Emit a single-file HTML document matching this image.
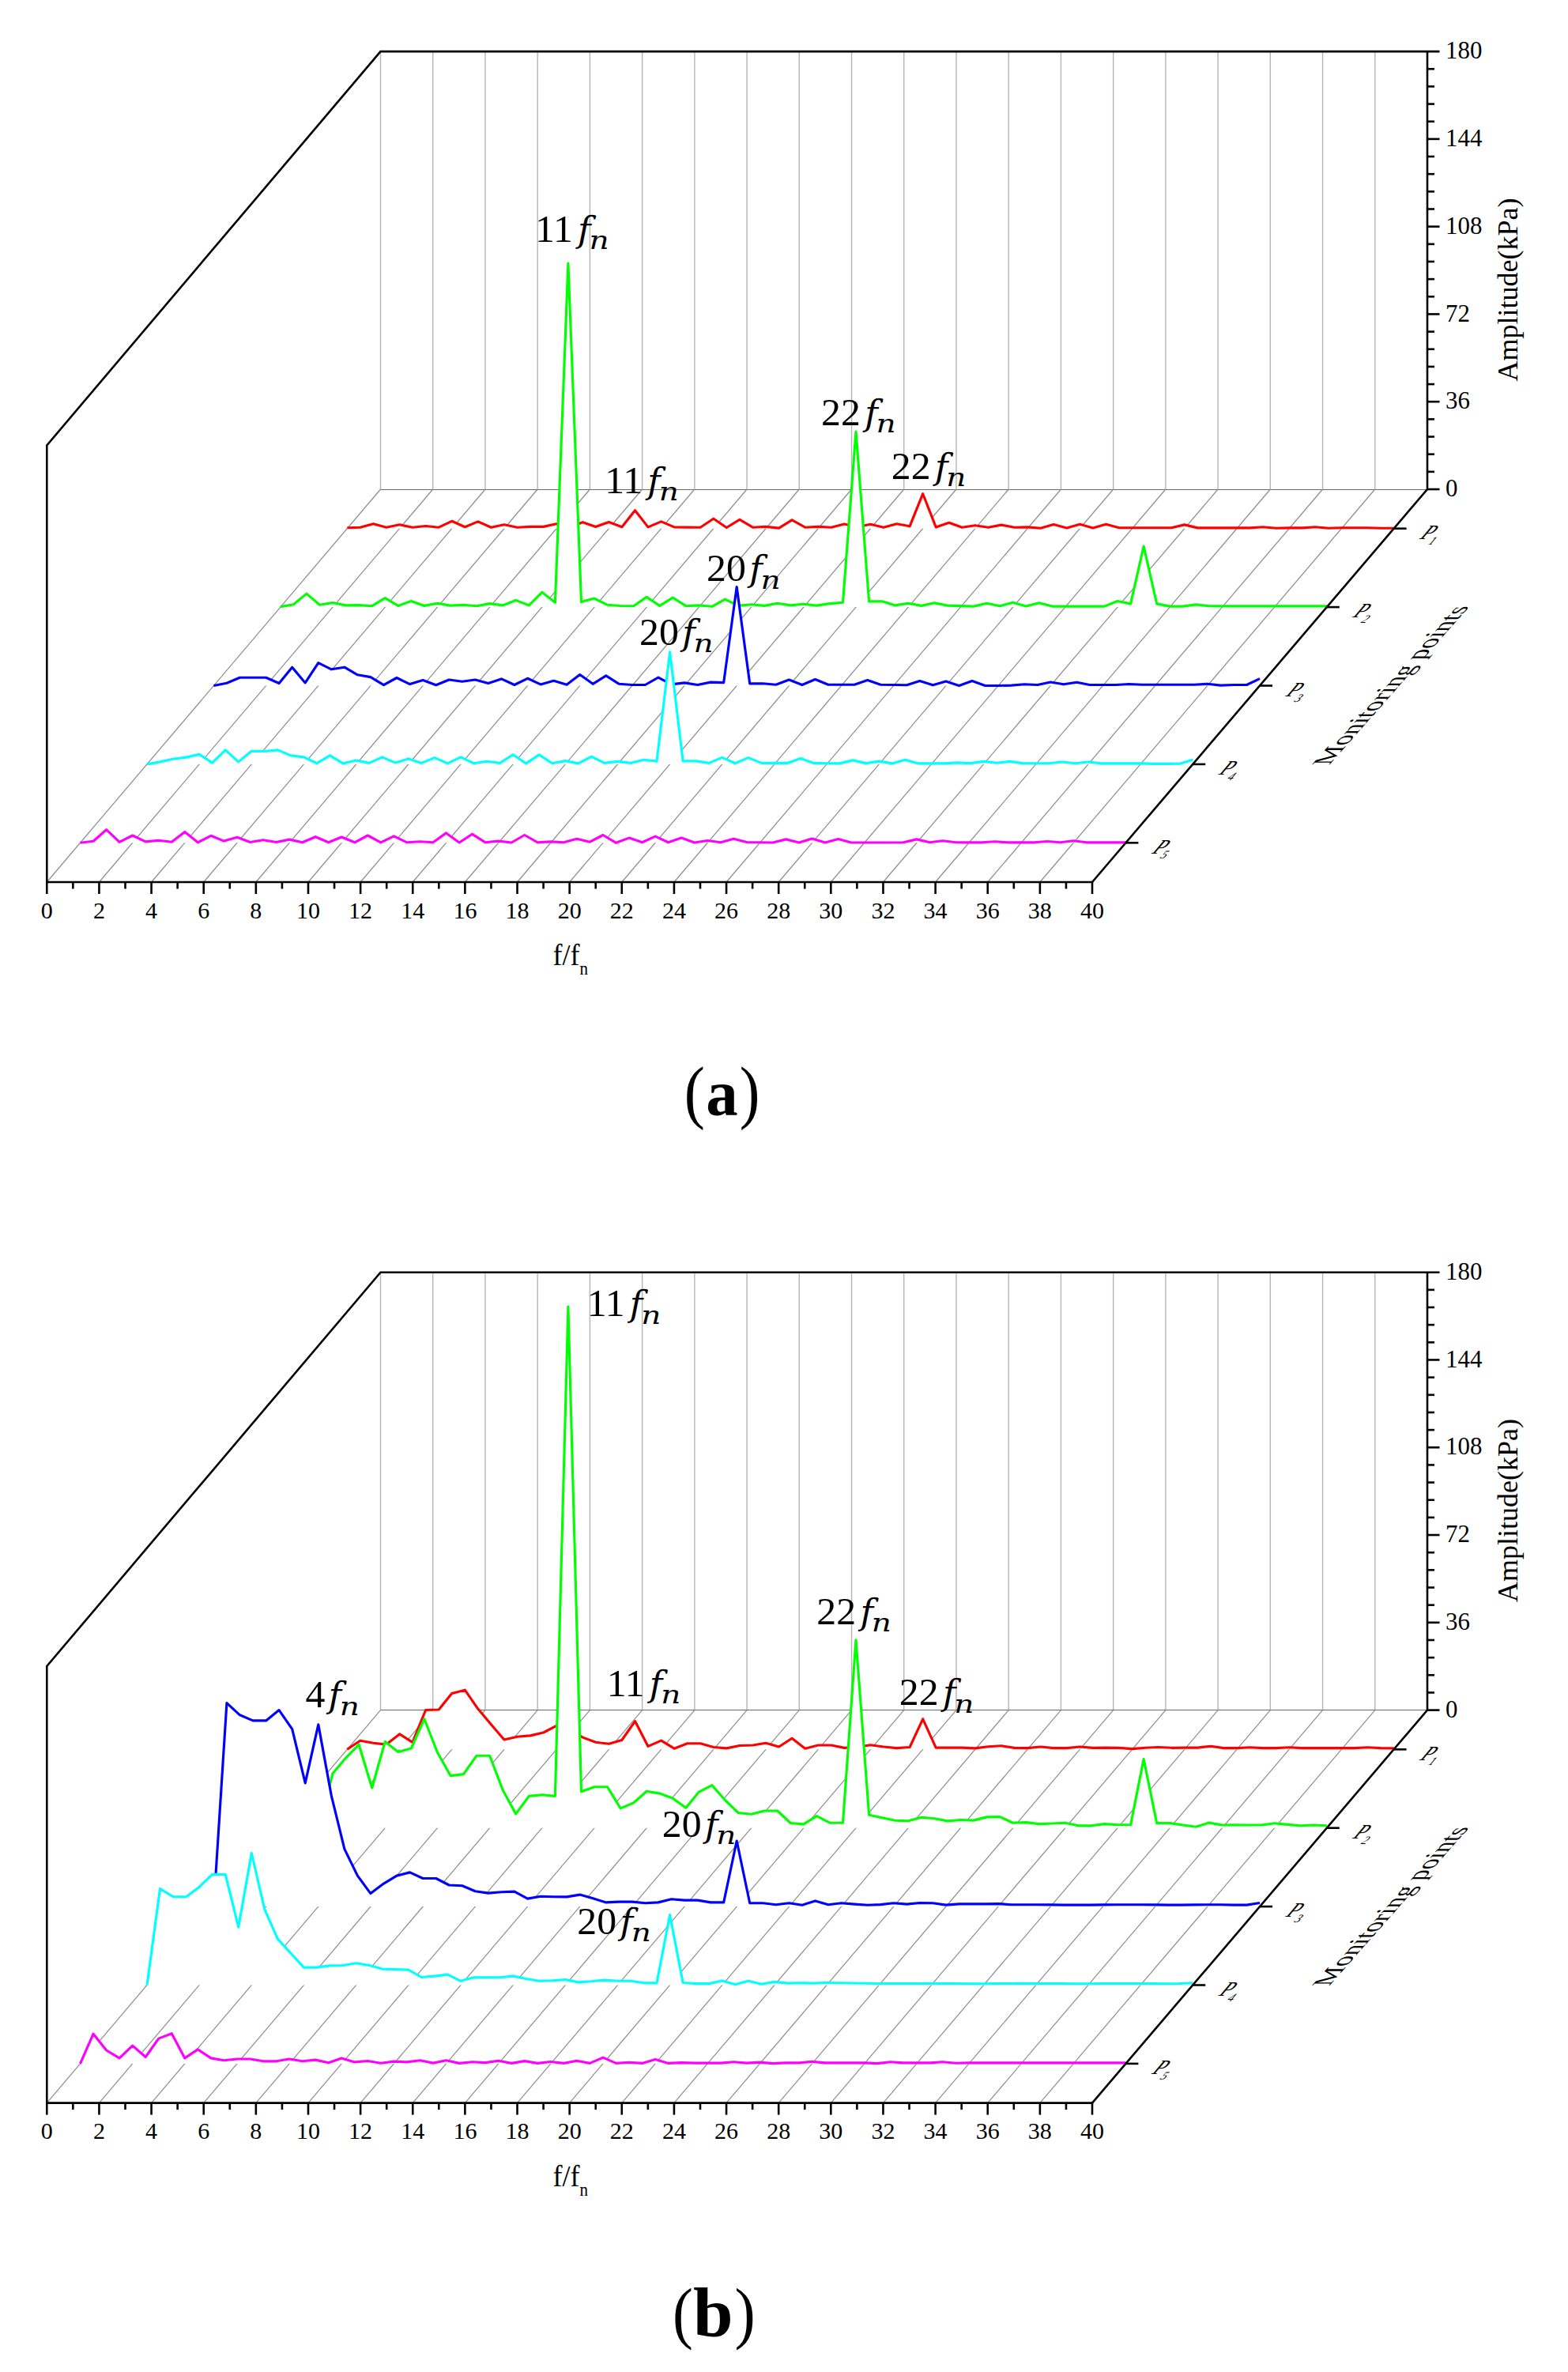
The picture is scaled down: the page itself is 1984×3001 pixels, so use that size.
<!DOCTYPE html>
<html><head><meta charset="utf-8"><title>Figure</title>
<style>
html,body{margin:0;padding:0;background:#fff;}
svg{display:block}
text{font-family:"Liberation Serif",serif;fill:#000}
.tk{font-size:30px}
.ti{font-size:36px}
.ti2{font-size:33px}
.pl{font-size:34px}
.an{font-size:47px}
.ai{font-family:"DejaVu Serif","Liberation Serif",serif;font-style:italic;font-size:44.7px}
.as{font-family:"DejaVu Serif","Liberation Serif",serif;font-style:italic;font-size:32px}
.cap{font-size:100px}
.capb{font-weight:bold}
</style></head><body>
<svg width="1984" height="3001" viewBox="0 0 1984 3001">
<rect width="1984" height="3001" fill="#fff"/>
<line x1="481.50" y1="65.10" x2="481.50" y2="619.00" stroke="#b4b4b4" stroke-width="1.4"/>
<line x1="547.73" y1="65.10" x2="547.73" y2="619.00" stroke="#b4b4b4" stroke-width="1.4"/>
<line x1="613.95" y1="65.10" x2="613.95" y2="619.00" stroke="#b4b4b4" stroke-width="1.4"/>
<line x1="680.17" y1="65.10" x2="680.17" y2="619.00" stroke="#b4b4b4" stroke-width="1.4"/>
<line x1="746.40" y1="65.10" x2="746.40" y2="619.00" stroke="#b4b4b4" stroke-width="1.4"/>
<line x1="812.62" y1="65.10" x2="812.62" y2="619.00" stroke="#b4b4b4" stroke-width="1.4"/>
<line x1="878.85" y1="65.10" x2="878.85" y2="619.00" stroke="#b4b4b4" stroke-width="1.4"/>
<line x1="945.08" y1="65.10" x2="945.08" y2="619.00" stroke="#b4b4b4" stroke-width="1.4"/>
<line x1="1011.30" y1="65.10" x2="1011.30" y2="619.00" stroke="#b4b4b4" stroke-width="1.4"/>
<line x1="1077.53" y1="65.10" x2="1077.53" y2="619.00" stroke="#b4b4b4" stroke-width="1.4"/>
<line x1="1143.75" y1="65.10" x2="1143.75" y2="619.00" stroke="#b4b4b4" stroke-width="1.4"/>
<line x1="1209.97" y1="65.10" x2="1209.97" y2="619.00" stroke="#b4b4b4" stroke-width="1.4"/>
<line x1="1276.20" y1="65.10" x2="1276.20" y2="619.00" stroke="#b4b4b4" stroke-width="1.4"/>
<line x1="1342.42" y1="65.10" x2="1342.42" y2="619.00" stroke="#b4b4b4" stroke-width="1.4"/>
<line x1="1408.65" y1="65.10" x2="1408.65" y2="619.00" stroke="#b4b4b4" stroke-width="1.4"/>
<line x1="1474.88" y1="65.10" x2="1474.88" y2="619.00" stroke="#b4b4b4" stroke-width="1.4"/>
<line x1="1541.10" y1="65.10" x2="1541.10" y2="619.00" stroke="#b4b4b4" stroke-width="1.4"/>
<line x1="1607.33" y1="65.10" x2="1607.33" y2="619.00" stroke="#b4b4b4" stroke-width="1.4"/>
<line x1="1673.55" y1="65.10" x2="1673.55" y2="619.00" stroke="#b4b4b4" stroke-width="1.4"/>
<line x1="1739.78" y1="65.10" x2="1739.78" y2="619.00" stroke="#b4b4b4" stroke-width="1.4"/>
<line x1="481.50" y1="619.50" x2="1806.00" y2="619.50" stroke="#6a6a6a" stroke-width="1"/>
<line x1="59.30" y1="1116.00" x2="481.50" y2="619.00" stroke="#8c8c8c" stroke-width="1.2"/>
<line x1="125.44" y1="1116.00" x2="547.73" y2="619.00" stroke="#8c8c8c" stroke-width="1.2"/>
<line x1="191.57" y1="1116.00" x2="613.95" y2="619.00" stroke="#8c8c8c" stroke-width="1.2"/>
<line x1="257.71" y1="1116.00" x2="680.17" y2="619.00" stroke="#8c8c8c" stroke-width="1.2"/>
<line x1="323.84" y1="1116.00" x2="746.40" y2="619.00" stroke="#8c8c8c" stroke-width="1.2"/>
<line x1="389.98" y1="1116.00" x2="812.62" y2="619.00" stroke="#8c8c8c" stroke-width="1.2"/>
<line x1="456.11" y1="1116.00" x2="878.85" y2="619.00" stroke="#8c8c8c" stroke-width="1.2"/>
<line x1="522.25" y1="1116.00" x2="945.08" y2="619.00" stroke="#8c8c8c" stroke-width="1.2"/>
<line x1="588.38" y1="1116.00" x2="1011.30" y2="619.00" stroke="#8c8c8c" stroke-width="1.2"/>
<line x1="654.51" y1="1116.00" x2="1077.53" y2="619.00" stroke="#8c8c8c" stroke-width="1.2"/>
<line x1="720.65" y1="1116.00" x2="1143.75" y2="619.00" stroke="#8c8c8c" stroke-width="1.2"/>
<line x1="786.78" y1="1116.00" x2="1209.97" y2="619.00" stroke="#8c8c8c" stroke-width="1.2"/>
<line x1="852.92" y1="1116.00" x2="1276.20" y2="619.00" stroke="#8c8c8c" stroke-width="1.2"/>
<line x1="919.06" y1="1116.00" x2="1342.42" y2="619.00" stroke="#8c8c8c" stroke-width="1.2"/>
<line x1="985.19" y1="1116.00" x2="1408.65" y2="619.00" stroke="#8c8c8c" stroke-width="1.2"/>
<line x1="1051.33" y1="1116.00" x2="1474.88" y2="619.00" stroke="#8c8c8c" stroke-width="1.2"/>
<line x1="1117.46" y1="1116.00" x2="1541.10" y2="619.00" stroke="#8c8c8c" stroke-width="1.2"/>
<line x1="1183.60" y1="1116.00" x2="1607.33" y2="619.00" stroke="#8c8c8c" stroke-width="1.2"/>
<line x1="1249.73" y1="1116.00" x2="1673.55" y2="619.00" stroke="#8c8c8c" stroke-width="1.2"/>
<line x1="1315.87" y1="1116.00" x2="1739.78" y2="619.00" stroke="#8c8c8c" stroke-width="1.2"/>
<polygon fill="#fff" stroke="none" points="439.3,667.7 455.8,667.2 472.4,662.7 488.9,667.2 505.5,663.8 522.0,667.2 538.6,665.5 555.2,667.2 571.7,659.3 588.3,666.7 604.8,659.9 621.4,667.2 637.9,663.8 654.5,667.2 671.0,666.4 687.6,666.4 704.1,662.7 720.7,666.7 737.3,660.7 753.8,666.4 770.4,660.5 786.9,666.7 803.5,645.7 820.0,666.9 836.6,659.9 853.1,666.9 869.7,667.1 886.2,667.2 902.8,656.2 919.3,667.5 935.9,657.4 952.5,667.2 969.0,666.4 985.6,668.1 1002.1,657.9 1018.7,667.2 1035.2,666.4 1051.8,667.2 1068.3,663.0 1084.9,666.7 1101.4,663.3 1118.0,667.2 1134.5,662.7 1151.1,665.8 1167.7,624.7 1184.2,666.9 1200.8,661.3 1217.3,667.2 1233.9,664.7 1250.4,667.2 1267.0,664.1 1283.5,667.2 1300.1,666.9 1316.6,668.2 1333.2,663.5 1349.8,667.9 1366.3,663.2 1382.9,667.9 1399.4,663.2 1416.0,667.7 1432.5,667.7 1449.1,667.7 1465.6,667.7 1482.2,667.7 1498.7,663.9 1515.3,667.9 1531.8,667.9 1548.4,667.9 1565.0,667.9 1581.5,667.9 1598.1,666.7 1614.6,668.2 1631.2,667.9 1647.7,667.9 1664.3,666.7 1680.8,668.2 1697.4,667.7 1713.9,667.7 1730.5,667.7 1747.0,668.2 1763.6,668.2 1763.6,668.7 439.3,668.7"/>
<polyline fill="none" stroke="#ff0000" stroke-width="3.15" stroke-linejoin="round" stroke-linecap="butt" points="439.3,667.7 455.8,667.2 472.4,662.7 488.9,667.2 505.5,663.8 522.0,667.2 538.6,665.5 555.2,667.2 571.7,659.3 588.3,666.7 604.8,659.9 621.4,667.2 637.9,663.8 654.5,667.2 671.0,666.4 687.6,666.4 704.1,662.7 720.7,666.7 737.3,660.7 753.8,666.4 770.4,660.5 786.9,666.7 803.5,645.7 820.0,666.9 836.6,659.9 853.1,666.9 869.7,667.1 886.2,667.2 902.8,656.2 919.3,667.5 935.9,657.4 952.5,667.2 969.0,666.4 985.6,668.1 1002.1,657.9 1018.7,667.2 1035.2,666.4 1051.8,667.2 1068.3,663.0 1084.9,666.7 1101.4,663.3 1118.0,667.2 1134.5,662.7 1151.1,665.8 1167.7,624.7 1184.2,666.9 1200.8,661.3 1217.3,667.2 1233.9,664.7 1250.4,667.2 1267.0,664.1 1283.5,667.2 1300.1,666.9 1316.6,668.2 1333.2,663.5 1349.8,667.9 1366.3,663.2 1382.9,667.9 1399.4,663.2 1416.0,667.7 1432.5,667.7 1449.1,667.7 1465.6,667.7 1482.2,667.7 1498.7,663.9 1515.3,667.9 1531.8,667.9 1548.4,667.9 1565.0,667.9 1581.5,667.9 1598.1,666.7 1614.6,668.2 1631.2,667.9 1647.7,667.9 1664.3,666.7 1680.8,668.2 1697.4,667.7 1713.9,667.7 1730.5,667.7 1747.0,668.2 1763.6,668.2"/>
<polygon fill="#fff" stroke="none" points="354.8,767.6 371.4,764.7 387.9,751.1 404.5,765.3 421.0,762.5 437.6,765.9 454.1,765.6 470.7,766.7 487.2,756.6 503.8,766.4 520.3,760.5 536.9,766.4 553.4,763.3 570.0,766.1 586.5,765.3 603.1,766.7 619.6,763.6 636.2,765.9 652.7,759.4 669.3,765.9 685.8,749.3 702.4,762.2 718.9,333.1 735.5,761.6 752.0,757.1 768.6,765.3 785.1,766.5 801.7,766.7 818.2,755.4 834.8,766.4 851.3,756.1 867.9,766.7 884.4,765.9 901.0,767.3 917.5,758.1 934.1,766.4 950.6,764.7 967.2,766.4 983.7,763.3 1000.3,765.9 1016.8,764.2 1033.4,766.1 1049.9,763.6 1066.5,762.2 1083.0,546.1 1099.6,760.8 1116.1,760.8 1132.7,765.9 1149.2,763.3 1165.8,766.4 1182.3,762.8 1198.9,766.1 1215.4,766.6 1232.0,767.1 1248.5,763.3 1265.1,766.7 1281.6,762.3 1298.2,767.1 1314.7,762.7 1331.3,767.1 1347.8,767.1 1364.4,767.1 1380.9,767.1 1397.5,767.1 1414.0,760.5 1430.6,763.9 1447.1,691.1 1463.7,763.9 1480.2,767.1 1496.8,767.1 1513.3,764.9 1529.9,766.7 1546.4,766.9 1563.0,766.9 1579.5,766.9 1596.1,766.9 1612.6,766.9 1629.2,766.9 1645.7,766.9 1662.3,766.9 1678.8,766.9 1678.8,768.1 354.8,768.1"/>
<polyline fill="none" stroke="#00ff00" stroke-width="3.15" stroke-linejoin="round" stroke-linecap="butt" points="354.8,767.6 371.4,764.7 387.9,751.1 404.5,765.3 421.0,762.5 437.6,765.9 454.1,765.6 470.7,766.7 487.2,756.6 503.8,766.4 520.3,760.5 536.9,766.4 553.4,763.3 570.0,766.1 586.5,765.3 603.1,766.7 619.6,763.6 636.2,765.9 652.7,759.4 669.3,765.9 685.8,749.3 702.4,762.2 718.9,333.1 735.5,761.6 752.0,757.1 768.6,765.3 785.1,766.5 801.7,766.7 818.2,755.4 834.8,766.4 851.3,756.1 867.9,766.7 884.4,765.9 901.0,767.3 917.5,758.1 934.1,766.4 950.6,764.7 967.2,766.4 983.7,763.3 1000.3,765.9 1016.8,764.2 1033.4,766.1 1049.9,763.6 1066.5,762.2 1083.0,546.1 1099.6,760.8 1116.1,760.8 1132.7,765.9 1149.2,763.3 1165.8,766.4 1182.3,762.8 1198.9,766.1 1215.4,766.6 1232.0,767.1 1248.5,763.3 1265.1,766.7 1281.6,762.3 1298.2,767.1 1314.7,762.7 1331.3,767.1 1347.8,767.1 1364.4,767.1 1380.9,767.1 1397.5,767.1 1414.0,760.5 1430.6,763.9 1447.1,691.1 1463.7,763.9 1480.2,767.1 1496.8,767.1 1513.3,764.9 1529.9,766.7 1546.4,766.9 1563.0,766.9 1579.5,766.9 1596.1,766.9 1612.6,766.9 1629.2,766.9 1645.7,766.9 1662.3,766.9 1678.8,766.9"/>
<polygon fill="#fff" stroke="none" points="270.4,867.5 286.9,864.2 303.5,857.2 320.0,857.2 336.6,857.2 353.1,864.5 369.7,844.2 386.2,863.9 402.8,838.6 419.3,846.8 435.9,844.2 452.4,853.8 468.9,856.6 485.5,866.7 502.0,857.5 518.6,865.6 535.1,860.5 551.7,866.7 568.2,860.0 584.8,862.2 601.3,860.0 617.8,864.5 634.4,858.9 650.9,866.5 667.5,858.3 684.0,865.9 700.6,861.3 717.1,866.2 733.7,853.5 750.2,865.3 766.8,854.9 783.3,865.3 799.8,866.5 816.4,866.5 832.9,857.2 849.5,865.9 866.0,863.9 882.6,866.5 899.1,863.1 915.7,863.6 932.2,742.5 948.7,864.8 965.3,864.8 981.8,866.2 998.4,860.0 1014.9,866.5 1031.5,859.5 1048.0,866.2 1064.6,866.2 1081.1,866.2 1097.7,860.5 1114.2,866.2 1130.7,866.5 1147.3,866.8 1163.8,861.5 1180.4,866.8 1196.9,862.1 1213.5,867.5 1230.0,861.5 1246.6,867.5 1263.1,867.5 1279.6,867.1 1296.2,865.8 1312.7,866.5 1329.3,863.0 1345.8,865.8 1362.4,863.3 1378.9,866.5 1395.5,866.5 1412.0,866.5 1428.5,865.5 1445.1,866.2 1461.6,866.2 1478.2,866.2 1494.7,866.2 1511.3,866.2 1527.8,865.2 1544.4,867.1 1560.9,866.5 1577.5,866.5 1594.0,858.7 1594.0,867.5 270.4,867.5"/>
<polyline fill="none" stroke="#0000ff" stroke-width="3.15" stroke-linejoin="round" stroke-linecap="butt" points="270.4,867.5 286.9,864.2 303.5,857.2 320.0,857.2 336.6,857.2 353.1,864.5 369.7,844.2 386.2,863.9 402.8,838.6 419.3,846.8 435.9,844.2 452.4,853.8 468.9,856.6 485.5,866.7 502.0,857.5 518.6,865.6 535.1,860.5 551.7,866.7 568.2,860.0 584.8,862.2 601.3,860.0 617.8,864.5 634.4,858.9 650.9,866.5 667.5,858.3 684.0,865.9 700.6,861.3 717.1,866.2 733.7,853.5 750.2,865.3 766.8,854.9 783.3,865.3 799.8,866.5 816.4,866.5 832.9,857.2 849.5,865.9 866.0,863.9 882.6,866.5 899.1,863.1 915.7,863.6 932.2,742.5 948.7,864.8 965.3,864.8 981.8,866.2 998.4,860.0 1014.9,866.5 1031.5,859.5 1048.0,866.2 1064.6,866.2 1081.1,866.2 1097.7,860.5 1114.2,866.2 1130.7,866.5 1147.3,866.8 1163.8,861.5 1180.4,866.8 1196.9,862.1 1213.5,867.5 1230.0,861.5 1246.6,867.5 1263.1,867.5 1279.6,867.1 1296.2,865.8 1312.7,866.5 1329.3,863.0 1345.8,865.8 1362.4,863.3 1378.9,866.5 1395.5,866.5 1412.0,866.5 1428.5,865.5 1445.1,866.2 1461.6,866.2 1478.2,866.2 1494.7,866.2 1511.3,866.2 1527.8,865.2 1544.4,867.1 1560.9,866.5 1577.5,866.5 1594.0,858.7"/>
<polygon fill="#fff" stroke="none" points="186.0,966.9 202.5,963.9 219.0,960.3 235.6,958.1 252.1,954.4 268.7,965.1 285.2,948.9 301.7,963.9 318.3,950.2 334.8,950.5 351.4,948.9 367.9,955.9 384.4,957.9 401.0,965.7 417.5,955.9 434.1,965.9 450.6,962.0 467.1,965.4 483.7,957.9 500.2,965.1 516.8,959.9 533.3,965.4 549.9,958.6 566.4,965.9 582.9,957.9 599.5,965.7 616.0,963.3 632.6,965.4 649.1,954.7 665.6,965.9 682.2,954.9 698.7,965.7 715.3,962.6 731.8,965.9 748.3,957.2 764.9,965.4 781.4,963.4 798.0,965.4 814.5,961.2 831.0,963.1 847.6,824.9 864.1,962.9 880.7,962.9 897.2,965.4 913.7,958.4 930.3,965.7 946.8,958.6 963.4,965.4 979.9,965.4 996.4,965.4 1013.0,959.5 1029.5,965.4 1046.1,965.7 1062.6,965.9 1079.1,961.9 1095.7,965.6 1112.2,963.1 1128.8,965.9 1145.3,961.2 1161.8,965.9 1178.4,965.9 1194.9,965.9 1211.5,964.9 1228.0,965.6 1244.6,963.4 1261.1,965.3 1277.6,963.4 1294.2,965.6 1310.7,965.7 1327.3,965.7 1343.8,964.0 1360.3,965.7 1376.9,964.0 1393.4,965.9 1410.0,965.9 1426.5,965.9 1443.0,965.9 1459.6,966.4 1476.1,966.4 1492.7,966.2 1509.2,961.2 1509.2,966.9 186.0,966.9"/>
<polyline fill="none" stroke="#00ffff" stroke-width="3.15" stroke-linejoin="round" stroke-linecap="butt" points="186.0,966.9 202.5,963.9 219.0,960.3 235.6,958.1 252.1,954.4 268.7,965.1 285.2,948.9 301.7,963.9 318.3,950.2 334.8,950.5 351.4,948.9 367.9,955.9 384.4,957.9 401.0,965.7 417.5,955.9 434.1,965.9 450.6,962.0 467.1,965.4 483.7,957.9 500.2,965.1 516.8,959.9 533.3,965.4 549.9,958.6 566.4,965.9 582.9,957.9 599.5,965.7 616.0,963.3 632.6,965.4 649.1,954.7 665.6,965.9 682.2,954.9 698.7,965.7 715.3,962.6 731.8,965.9 748.3,957.2 764.9,965.4 781.4,963.4 798.0,965.4 814.5,961.2 831.0,963.1 847.6,824.9 864.1,962.9 880.7,962.9 897.2,965.4 913.7,958.4 930.3,965.7 946.8,958.6 963.4,965.4 979.9,965.4 996.4,965.4 1013.0,959.5 1029.5,965.4 1046.1,965.7 1062.6,965.9 1079.1,961.9 1095.7,965.6 1112.2,963.1 1128.8,965.9 1145.3,961.2 1161.8,965.9 1178.4,965.9 1194.9,965.9 1211.5,964.9 1228.0,965.6 1244.6,963.4 1261.1,965.3 1277.6,963.4 1294.2,965.6 1310.7,965.7 1327.3,965.7 1343.8,964.0 1360.3,965.7 1376.9,964.0 1393.4,965.9 1410.0,965.9 1426.5,965.9 1443.0,965.9 1459.6,966.4 1476.1,966.4 1492.7,966.2 1509.2,961.2"/>
<polygon fill="#fff" stroke="none" points="101.5,1066.3 118.1,1064.3 134.6,1049.7 151.1,1065.3 167.7,1057.0 184.2,1064.9 200.7,1063.3 217.3,1065.3 233.8,1052.5 250.3,1065.8 266.9,1057.3 283.4,1064.1 300.0,1059.3 316.5,1065.5 333.0,1062.7 349.6,1065.5 366.1,1062.1 382.6,1065.8 399.2,1058.7 415.7,1065.8 432.2,1059.0 448.8,1065.8 465.3,1057.0 481.8,1065.8 498.4,1057.9 514.9,1065.8 531.5,1064.8 548.0,1065.8 564.5,1053.9 581.1,1066.0 597.6,1055.3 614.1,1065.8 630.7,1064.1 647.2,1066.0 663.7,1056.5 680.3,1065.8 696.8,1064.9 713.4,1065.8 729.9,1061.3 746.4,1065.2 763.0,1056.5 779.5,1066.3 796.0,1060.1 812.6,1065.8 829.1,1058.1 845.6,1065.8 862.2,1060.1 878.7,1066.0 895.2,1063.5 911.8,1065.8 928.3,1061.3 944.9,1065.5 961.4,1065.8 977.9,1066.0 994.5,1061.9 1011.0,1066.0 1027.5,1061.0 1044.1,1066.0 1060.6,1061.6 1077.1,1066.0 1093.7,1066.0 1110.2,1066.0 1126.8,1066.0 1143.3,1065.8 1159.8,1061.9 1176.4,1065.7 1192.9,1063.8 1209.4,1065.7 1226.0,1065.8 1242.5,1065.8 1259.0,1064.8 1275.6,1065.8 1292.1,1065.8 1308.6,1065.8 1325.2,1064.5 1341.7,1065.7 1358.3,1063.8 1374.8,1065.8 1391.3,1065.8 1407.9,1065.8 1424.4,1065.8 1424.4,1066.3 101.5,1066.3"/>
<polyline fill="none" stroke="#ff00ff" stroke-width="3.15" stroke-linejoin="round" stroke-linecap="butt" points="101.5,1066.3 118.1,1064.3 134.6,1049.7 151.1,1065.3 167.7,1057.0 184.2,1064.9 200.7,1063.3 217.3,1065.3 233.8,1052.5 250.3,1065.8 266.9,1057.3 283.4,1064.1 300.0,1059.3 316.5,1065.5 333.0,1062.7 349.6,1065.5 366.1,1062.1 382.6,1065.8 399.2,1058.7 415.7,1065.8 432.2,1059.0 448.8,1065.8 465.3,1057.0 481.8,1065.8 498.4,1057.9 514.9,1065.8 531.5,1064.8 548.0,1065.8 564.5,1053.9 581.1,1066.0 597.6,1055.3 614.1,1065.8 630.7,1064.1 647.2,1066.0 663.7,1056.5 680.3,1065.8 696.8,1064.9 713.4,1065.8 729.9,1061.3 746.4,1065.2 763.0,1056.5 779.5,1066.3 796.0,1060.1 812.6,1065.8 829.1,1058.1 845.6,1065.8 862.2,1060.1 878.7,1066.0 895.2,1063.5 911.8,1065.8 928.3,1061.3 944.9,1065.5 961.4,1065.8 977.9,1066.0 994.5,1061.9 1011.0,1066.0 1027.5,1061.0 1044.1,1066.0 1060.6,1061.6 1077.1,1066.0 1093.7,1066.0 1110.2,1066.0 1126.8,1066.0 1143.3,1065.8 1159.8,1061.9 1176.4,1065.7 1192.9,1063.8 1209.4,1065.7 1226.0,1065.8 1242.5,1065.8 1259.0,1064.8 1275.6,1065.8 1292.1,1065.8 1308.6,1065.8 1325.2,1064.5 1341.7,1065.7 1358.3,1063.8 1374.8,1065.8 1391.3,1065.8 1407.9,1065.8 1424.4,1065.8"/>
<polyline fill="none" stroke="#000" stroke-width="2.6" stroke-linejoin="miter" points="1382.00,1116.00 59.30,1116.00 59.30,563.40 481.50,65.10 1821.50,65.10"/>
<polyline fill="none" stroke="#000" stroke-width="2.6" stroke-linejoin="miter" points="1806.00,65.10 1806.00,619.00 1382.00,1116.00"/>
<line x1="59.30" y1="1116.00" x2="59.30" y2="1131.00" stroke="#000" stroke-width="2.6"/>
<text transform="translate(59.30,1161.60) scale(1,1.0)" text-anchor="middle" class="tk">0</text>
<line x1="92.37" y1="1116.00" x2="92.37" y2="1124.50" stroke="#000" stroke-width="2.6"/>
<line x1="125.44" y1="1116.00" x2="125.44" y2="1131.00" stroke="#000" stroke-width="2.6"/>
<text transform="translate(125.44,1161.60) scale(1,1.0)" text-anchor="middle" class="tk">2</text>
<line x1="158.50" y1="1116.00" x2="158.50" y2="1124.50" stroke="#000" stroke-width="2.6"/>
<line x1="191.57" y1="1116.00" x2="191.57" y2="1131.00" stroke="#000" stroke-width="2.6"/>
<text transform="translate(191.57,1161.60) scale(1,1.0)" text-anchor="middle" class="tk">4</text>
<line x1="224.64" y1="1116.00" x2="224.64" y2="1124.50" stroke="#000" stroke-width="2.6"/>
<line x1="257.71" y1="1116.00" x2="257.71" y2="1131.00" stroke="#000" stroke-width="2.6"/>
<text transform="translate(257.71,1161.60) scale(1,1.0)" text-anchor="middle" class="tk">6</text>
<line x1="290.77" y1="1116.00" x2="290.77" y2="1124.50" stroke="#000" stroke-width="2.6"/>
<line x1="323.84" y1="1116.00" x2="323.84" y2="1131.00" stroke="#000" stroke-width="2.6"/>
<text transform="translate(323.84,1161.60) scale(1,1.0)" text-anchor="middle" class="tk">8</text>
<line x1="356.91" y1="1116.00" x2="356.91" y2="1124.50" stroke="#000" stroke-width="2.6"/>
<line x1="389.98" y1="1116.00" x2="389.98" y2="1131.00" stroke="#000" stroke-width="2.6"/>
<text transform="translate(389.98,1161.60) scale(1,1.0)" text-anchor="middle" class="tk">10</text>
<line x1="423.04" y1="1116.00" x2="423.04" y2="1124.50" stroke="#000" stroke-width="2.6"/>
<line x1="456.11" y1="1116.00" x2="456.11" y2="1131.00" stroke="#000" stroke-width="2.6"/>
<text transform="translate(456.11,1161.60) scale(1,1.0)" text-anchor="middle" class="tk">12</text>
<line x1="489.18" y1="1116.00" x2="489.18" y2="1124.50" stroke="#000" stroke-width="2.6"/>
<line x1="522.25" y1="1116.00" x2="522.25" y2="1131.00" stroke="#000" stroke-width="2.6"/>
<text transform="translate(522.25,1161.60) scale(1,1.0)" text-anchor="middle" class="tk">14</text>
<line x1="555.31" y1="1116.00" x2="555.31" y2="1124.50" stroke="#000" stroke-width="2.6"/>
<line x1="588.38" y1="1116.00" x2="588.38" y2="1131.00" stroke="#000" stroke-width="2.6"/>
<text transform="translate(588.38,1161.60) scale(1,1.0)" text-anchor="middle" class="tk">16</text>
<line x1="621.45" y1="1116.00" x2="621.45" y2="1124.50" stroke="#000" stroke-width="2.6"/>
<line x1="654.51" y1="1116.00" x2="654.51" y2="1131.00" stroke="#000" stroke-width="2.6"/>
<text transform="translate(654.51,1161.60) scale(1,1.0)" text-anchor="middle" class="tk">18</text>
<line x1="687.58" y1="1116.00" x2="687.58" y2="1124.50" stroke="#000" stroke-width="2.6"/>
<line x1="720.65" y1="1116.00" x2="720.65" y2="1131.00" stroke="#000" stroke-width="2.6"/>
<text transform="translate(720.65,1161.60) scale(1,1.0)" text-anchor="middle" class="tk">20</text>
<line x1="753.72" y1="1116.00" x2="753.72" y2="1124.50" stroke="#000" stroke-width="2.6"/>
<line x1="786.78" y1="1116.00" x2="786.78" y2="1131.00" stroke="#000" stroke-width="2.6"/>
<text transform="translate(786.78,1161.60) scale(1,1.0)" text-anchor="middle" class="tk">22</text>
<line x1="819.85" y1="1116.00" x2="819.85" y2="1124.50" stroke="#000" stroke-width="2.6"/>
<line x1="852.92" y1="1116.00" x2="852.92" y2="1131.00" stroke="#000" stroke-width="2.6"/>
<text transform="translate(852.92,1161.60) scale(1,1.0)" text-anchor="middle" class="tk">24</text>
<line x1="885.99" y1="1116.00" x2="885.99" y2="1124.50" stroke="#000" stroke-width="2.6"/>
<line x1="919.06" y1="1116.00" x2="919.06" y2="1131.00" stroke="#000" stroke-width="2.6"/>
<text transform="translate(919.06,1161.60) scale(1,1.0)" text-anchor="middle" class="tk">26</text>
<line x1="952.12" y1="1116.00" x2="952.12" y2="1124.50" stroke="#000" stroke-width="2.6"/>
<line x1="985.19" y1="1116.00" x2="985.19" y2="1131.00" stroke="#000" stroke-width="2.6"/>
<text transform="translate(985.19,1161.60) scale(1,1.0)" text-anchor="middle" class="tk">28</text>
<line x1="1018.26" y1="1116.00" x2="1018.26" y2="1124.50" stroke="#000" stroke-width="2.6"/>
<line x1="1051.33" y1="1116.00" x2="1051.33" y2="1131.00" stroke="#000" stroke-width="2.6"/>
<text transform="translate(1051.33,1161.60) scale(1,1.0)" text-anchor="middle" class="tk">30</text>
<line x1="1084.39" y1="1116.00" x2="1084.39" y2="1124.50" stroke="#000" stroke-width="2.6"/>
<line x1="1117.46" y1="1116.00" x2="1117.46" y2="1131.00" stroke="#000" stroke-width="2.6"/>
<text transform="translate(1117.46,1161.60) scale(1,1.0)" text-anchor="middle" class="tk">32</text>
<line x1="1150.53" y1="1116.00" x2="1150.53" y2="1124.50" stroke="#000" stroke-width="2.6"/>
<line x1="1183.60" y1="1116.00" x2="1183.60" y2="1131.00" stroke="#000" stroke-width="2.6"/>
<text transform="translate(1183.60,1161.60) scale(1,1.0)" text-anchor="middle" class="tk">34</text>
<line x1="1216.66" y1="1116.00" x2="1216.66" y2="1124.50" stroke="#000" stroke-width="2.6"/>
<line x1="1249.73" y1="1116.00" x2="1249.73" y2="1131.00" stroke="#000" stroke-width="2.6"/>
<text transform="translate(1249.73,1161.60) scale(1,1.0)" text-anchor="middle" class="tk">36</text>
<line x1="1282.80" y1="1116.00" x2="1282.80" y2="1124.50" stroke="#000" stroke-width="2.6"/>
<line x1="1315.87" y1="1116.00" x2="1315.87" y2="1131.00" stroke="#000" stroke-width="2.6"/>
<text transform="translate(1315.87,1161.60) scale(1,1.0)" text-anchor="middle" class="tk">38</text>
<line x1="1348.93" y1="1116.00" x2="1348.93" y2="1124.50" stroke="#000" stroke-width="2.6"/>
<line x1="1382.00" y1="1116.00" x2="1382.00" y2="1131.00" stroke="#000" stroke-width="2.6"/>
<text transform="translate(1382.00,1161.60) scale(1,1.0)" text-anchor="middle" class="tk">40</text>
<line x1="1806.00" y1="619.00" x2="1821.50" y2="619.00" stroke="#000" stroke-width="2.6"/>
<line x1="1806.00" y1="596.84" x2="1815.00" y2="596.84" stroke="#000" stroke-width="2.6"/>
<line x1="1806.00" y1="574.69" x2="1815.00" y2="574.69" stroke="#000" stroke-width="2.6"/>
<line x1="1806.00" y1="552.53" x2="1815.00" y2="552.53" stroke="#000" stroke-width="2.6"/>
<line x1="1806.00" y1="530.38" x2="1815.00" y2="530.38" stroke="#000" stroke-width="2.6"/>
<line x1="1806.00" y1="508.22" x2="1821.50" y2="508.22" stroke="#000" stroke-width="2.6"/>
<line x1="1806.00" y1="486.06" x2="1815.00" y2="486.06" stroke="#000" stroke-width="2.6"/>
<line x1="1806.00" y1="463.91" x2="1815.00" y2="463.91" stroke="#000" stroke-width="2.6"/>
<line x1="1806.00" y1="441.75" x2="1815.00" y2="441.75" stroke="#000" stroke-width="2.6"/>
<line x1="1806.00" y1="419.60" x2="1815.00" y2="419.60" stroke="#000" stroke-width="2.6"/>
<line x1="1806.00" y1="397.44" x2="1821.50" y2="397.44" stroke="#000" stroke-width="2.6"/>
<line x1="1806.00" y1="375.28" x2="1815.00" y2="375.28" stroke="#000" stroke-width="2.6"/>
<line x1="1806.00" y1="353.13" x2="1815.00" y2="353.13" stroke="#000" stroke-width="2.6"/>
<line x1="1806.00" y1="330.97" x2="1815.00" y2="330.97" stroke="#000" stroke-width="2.6"/>
<line x1="1806.00" y1="308.82" x2="1815.00" y2="308.82" stroke="#000" stroke-width="2.6"/>
<line x1="1806.00" y1="286.66" x2="1821.50" y2="286.66" stroke="#000" stroke-width="2.6"/>
<line x1="1806.00" y1="264.50" x2="1815.00" y2="264.50" stroke="#000" stroke-width="2.6"/>
<line x1="1806.00" y1="242.35" x2="1815.00" y2="242.35" stroke="#000" stroke-width="2.6"/>
<line x1="1806.00" y1="220.19" x2="1815.00" y2="220.19" stroke="#000" stroke-width="2.6"/>
<line x1="1806.00" y1="198.04" x2="1815.00" y2="198.04" stroke="#000" stroke-width="2.6"/>
<line x1="1806.00" y1="175.88" x2="1821.50" y2="175.88" stroke="#000" stroke-width="2.6"/>
<line x1="1806.00" y1="153.72" x2="1815.00" y2="153.72" stroke="#000" stroke-width="2.6"/>
<line x1="1806.00" y1="131.57" x2="1815.00" y2="131.57" stroke="#000" stroke-width="2.6"/>
<line x1="1806.00" y1="109.41" x2="1815.00" y2="109.41" stroke="#000" stroke-width="2.6"/>
<line x1="1806.00" y1="87.26" x2="1815.00" y2="87.26" stroke="#000" stroke-width="2.6"/>
<text transform="translate(1829,628.10) scale(1.03,1.04)" class="tk">0</text>
<text transform="translate(1829,517.32) scale(1.03,1.04)" class="tk">36</text>
<text transform="translate(1829,406.54) scale(1.03,1.04)" class="tk">72</text>
<text transform="translate(1829,295.76) scale(1.03,1.04)" class="tk">108</text>
<text transform="translate(1829,184.98) scale(1.03,1.04)" class="tk">144</text>
<text transform="translate(1829,74.20) scale(1.03,1.04)" class="tk">180</text>
<line x1="1424.40" y1="1066.30" x2="1440.40" y2="1066.30" stroke="#000" stroke-width="2.6"/>
<text transform="matrix(0.75,0,-0.6476,0.7620,1455.40,1079.50)" class="pl">P<tspan dy="9" dx="3.5" font-size="19">5</tspan></text>
<line x1="1509.20" y1="966.90" x2="1525.20" y2="966.90" stroke="#000" stroke-width="2.6"/>
<text transform="matrix(0.75,0,-0.6476,0.7620,1540.20,980.10)" class="pl">P<tspan dy="9" dx="3.5" font-size="19">4</tspan></text>
<line x1="1594.00" y1="867.50" x2="1610.00" y2="867.50" stroke="#000" stroke-width="2.6"/>
<text transform="matrix(0.75,0,-0.6476,0.7620,1625.00,880.70)" class="pl">P<tspan dy="9" dx="3.5" font-size="19">3</tspan></text>
<line x1="1678.80" y1="768.10" x2="1694.80" y2="768.10" stroke="#000" stroke-width="2.6"/>
<text transform="matrix(0.75,0,-0.6476,0.7620,1709.80,781.30)" class="pl">P<tspan dy="9" dx="3.5" font-size="19">2</tspan></text>
<line x1="1763.60" y1="668.70" x2="1779.60" y2="668.70" stroke="#000" stroke-width="2.6"/>
<text transform="matrix(0.75,0,-0.6476,0.7620,1794.60,681.90)" class="pl">P<tspan dy="9" dx="3.5" font-size="19">1</tspan></text>
<text transform="translate(1919.5,366.50) rotate(-90)" text-anchor="middle" class="ti">Amplitude(kPa)</text>
<text transform="matrix(0.6825,-0.7715,0.95,0,1770.7,867.40)" text-anchor="middle" class="ti">Monitoring points</text>
<text transform="translate(699.5,1221.30) scale(1,1.06)" class="ti">f/f<tspan dy="11.5" font-size="21">n</tspan></text>
<text transform="translate(676.95,305.50) scale(1.06,1.02)" class="an">11</text>
<text x="730.95" y="305.50" class="ai">f</text>
<text transform="translate(745.40,315.00) scale(1.22,1)" class="as">n</text>
<text transform="translate(765.20,623.75) scale(1.06,1.02)" class="an">11</text>
<text x="819.20" y="623.75" class="ai">f</text>
<text transform="translate(833.65,633.25) scale(1.22,1)" class="as">n</text>
<text transform="translate(1039.05,537.50) scale(1.06,1.02)" class="an">22</text>
<text x="1094.15" y="537.50" class="ai">f</text>
<text transform="translate(1108.60,547.00) scale(1.22,1)" class="as">n</text>
<text transform="translate(1127.80,605.50) scale(1.06,1.02)" class="an">22</text>
<text x="1182.90" y="605.50" class="ai">f</text>
<text transform="translate(1197.35,615.00) scale(1.22,1)" class="as">n</text>
<text transform="translate(894.05,735.00) scale(1.06,1.02)" class="an">20</text>
<text x="948.15" y="735.00" class="ai">f</text>
<text transform="translate(962.60,744.50) scale(1.22,1)" class="as">n</text>
<text transform="translate(809.05,815.50) scale(1.06,1.02)" class="an">20</text>
<text x="863.15" y="815.50" class="ai">f</text>
<text transform="translate(877.60,825.00) scale(1.22,1)" class="as">n</text>
<line x1="481.50" y1="1609.70" x2="481.50" y2="2163.60" stroke="#b4b4b4" stroke-width="1.4"/>
<line x1="547.73" y1="1609.70" x2="547.73" y2="2163.60" stroke="#b4b4b4" stroke-width="1.4"/>
<line x1="613.95" y1="1609.70" x2="613.95" y2="2163.60" stroke="#b4b4b4" stroke-width="1.4"/>
<line x1="680.17" y1="1609.70" x2="680.17" y2="2163.60" stroke="#b4b4b4" stroke-width="1.4"/>
<line x1="746.40" y1="1609.70" x2="746.40" y2="2163.60" stroke="#b4b4b4" stroke-width="1.4"/>
<line x1="812.62" y1="1609.70" x2="812.62" y2="2163.60" stroke="#b4b4b4" stroke-width="1.4"/>
<line x1="878.85" y1="1609.70" x2="878.85" y2="2163.60" stroke="#b4b4b4" stroke-width="1.4"/>
<line x1="945.08" y1="1609.70" x2="945.08" y2="2163.60" stroke="#b4b4b4" stroke-width="1.4"/>
<line x1="1011.30" y1="1609.70" x2="1011.30" y2="2163.60" stroke="#b4b4b4" stroke-width="1.4"/>
<line x1="1077.53" y1="1609.70" x2="1077.53" y2="2163.60" stroke="#b4b4b4" stroke-width="1.4"/>
<line x1="1143.75" y1="1609.70" x2="1143.75" y2="2163.60" stroke="#b4b4b4" stroke-width="1.4"/>
<line x1="1209.97" y1="1609.70" x2="1209.97" y2="2163.60" stroke="#b4b4b4" stroke-width="1.4"/>
<line x1="1276.20" y1="1609.70" x2="1276.20" y2="2163.60" stroke="#b4b4b4" stroke-width="1.4"/>
<line x1="1342.42" y1="1609.70" x2="1342.42" y2="2163.60" stroke="#b4b4b4" stroke-width="1.4"/>
<line x1="1408.65" y1="1609.70" x2="1408.65" y2="2163.60" stroke="#b4b4b4" stroke-width="1.4"/>
<line x1="1474.88" y1="1609.70" x2="1474.88" y2="2163.60" stroke="#b4b4b4" stroke-width="1.4"/>
<line x1="1541.10" y1="1609.70" x2="1541.10" y2="2163.60" stroke="#b4b4b4" stroke-width="1.4"/>
<line x1="1607.33" y1="1609.70" x2="1607.33" y2="2163.60" stroke="#b4b4b4" stroke-width="1.4"/>
<line x1="1673.55" y1="1609.70" x2="1673.55" y2="2163.60" stroke="#b4b4b4" stroke-width="1.4"/>
<line x1="1739.78" y1="1609.70" x2="1739.78" y2="2163.60" stroke="#b4b4b4" stroke-width="1.4"/>
<line x1="481.50" y1="2163.50" x2="1806.00" y2="2163.50" stroke="#6a6a6a" stroke-width="1"/>
<line x1="59.30" y1="2660.60" x2="481.50" y2="2163.60" stroke="#8c8c8c" stroke-width="1.2"/>
<line x1="125.44" y1="2660.60" x2="547.73" y2="2163.60" stroke="#8c8c8c" stroke-width="1.2"/>
<line x1="191.57" y1="2660.60" x2="613.95" y2="2163.60" stroke="#8c8c8c" stroke-width="1.2"/>
<line x1="257.71" y1="2660.60" x2="680.17" y2="2163.60" stroke="#8c8c8c" stroke-width="1.2"/>
<line x1="323.84" y1="2660.60" x2="746.40" y2="2163.60" stroke="#8c8c8c" stroke-width="1.2"/>
<line x1="389.98" y1="2660.60" x2="812.62" y2="2163.60" stroke="#8c8c8c" stroke-width="1.2"/>
<line x1="456.11" y1="2660.60" x2="878.85" y2="2163.60" stroke="#8c8c8c" stroke-width="1.2"/>
<line x1="522.25" y1="2660.60" x2="945.08" y2="2163.60" stroke="#8c8c8c" stroke-width="1.2"/>
<line x1="588.38" y1="2660.60" x2="1011.30" y2="2163.60" stroke="#8c8c8c" stroke-width="1.2"/>
<line x1="654.51" y1="2660.60" x2="1077.53" y2="2163.60" stroke="#8c8c8c" stroke-width="1.2"/>
<line x1="720.65" y1="2660.60" x2="1143.75" y2="2163.60" stroke="#8c8c8c" stroke-width="1.2"/>
<line x1="786.78" y1="2660.60" x2="1209.97" y2="2163.60" stroke="#8c8c8c" stroke-width="1.2"/>
<line x1="852.92" y1="2660.60" x2="1276.20" y2="2163.60" stroke="#8c8c8c" stroke-width="1.2"/>
<line x1="919.06" y1="2660.60" x2="1342.42" y2="2163.60" stroke="#8c8c8c" stroke-width="1.2"/>
<line x1="985.19" y1="2660.60" x2="1408.65" y2="2163.60" stroke="#8c8c8c" stroke-width="1.2"/>
<line x1="1051.33" y1="2660.60" x2="1474.88" y2="2163.60" stroke="#8c8c8c" stroke-width="1.2"/>
<line x1="1117.46" y1="2660.60" x2="1541.10" y2="2163.60" stroke="#8c8c8c" stroke-width="1.2"/>
<line x1="1183.60" y1="2660.60" x2="1607.33" y2="2163.60" stroke="#8c8c8c" stroke-width="1.2"/>
<line x1="1249.73" y1="2660.60" x2="1673.55" y2="2163.60" stroke="#8c8c8c" stroke-width="1.2"/>
<line x1="1315.87" y1="2660.60" x2="1739.78" y2="2163.60" stroke="#8c8c8c" stroke-width="1.2"/>
<polygon fill="#fff" stroke="none" points="439.3,2213.3 455.8,2202.3 472.4,2205.2 488.9,2207.1 505.5,2193.9 522.0,2204.3 538.6,2163.5 555.2,2163.0 571.7,2142.5 588.3,2138.2 604.8,2162.1 621.4,2181.8 637.9,2201.0 654.5,2197.3 671.0,2195.9 687.6,2192.0 704.1,2183.3 720.7,2188.3 737.3,2198.1 753.8,2204.3 770.4,2206.3 786.9,2201.5 803.5,2177.6 820.0,2209.4 836.6,2202.1 853.1,2212.2 869.7,2205.7 886.2,2205.7 902.8,2210.5 919.3,2211.9 935.9,2208.5 952.5,2208.0 969.0,2205.2 985.6,2210.0 1002.1,2199.3 1018.7,2212.2 1035.2,2208.0 1051.8,2208.0 1068.3,2211.4 1084.9,2210.3 1101.4,2207.7 1118.0,2210.0 1134.5,2211.6 1151.1,2210.5 1167.7,2174.8 1184.2,2211.1 1200.8,2211.1 1217.3,2211.1 1233.9,2211.9 1250.4,2209.7 1267.0,2208.8 1283.5,2211.4 1300.1,2211.6 1316.6,2210.0 1333.2,2211.6 1349.8,2211.6 1366.3,2210.0 1382.9,2211.4 1399.4,2211.1 1416.0,2211.4 1432.5,2212.6 1449.1,2211.2 1465.6,2210.5 1482.2,2211.3 1498.7,2211.1 1515.3,2211.1 1531.8,2209.3 1548.4,2211.6 1565.0,2211.6 1581.5,2210.8 1598.1,2211.6 1614.6,2211.6 1631.2,2210.8 1647.7,2211.6 1664.3,2211.6 1680.8,2211.6 1697.4,2211.6 1713.9,2211.6 1730.5,2210.8 1747.0,2211.6 1763.6,2211.9 1763.6,2213.3 439.3,2213.3"/>
<polyline fill="none" stroke="#ff0000" stroke-width="3.15" stroke-linejoin="round" stroke-linecap="butt" points="439.3,2213.3 455.8,2202.3 472.4,2205.2 488.9,2207.1 505.5,2193.9 522.0,2204.3 538.6,2163.5 555.2,2163.0 571.7,2142.5 588.3,2138.2 604.8,2162.1 621.4,2181.8 637.9,2201.0 654.5,2197.3 671.0,2195.9 687.6,2192.0 704.1,2183.3 720.7,2188.3 737.3,2198.1 753.8,2204.3 770.4,2206.3 786.9,2201.5 803.5,2177.6 820.0,2209.4 836.6,2202.1 853.1,2212.2 869.7,2205.7 886.2,2205.7 902.8,2210.5 919.3,2211.9 935.9,2208.5 952.5,2208.0 969.0,2205.2 985.6,2210.0 1002.1,2199.3 1018.7,2212.2 1035.2,2208.0 1051.8,2208.0 1068.3,2211.4 1084.9,2210.3 1101.4,2207.7 1118.0,2210.0 1134.5,2211.6 1151.1,2210.5 1167.7,2174.8 1184.2,2211.1 1200.8,2211.1 1217.3,2211.1 1233.9,2211.9 1250.4,2209.7 1267.0,2208.8 1283.5,2211.4 1300.1,2211.6 1316.6,2210.0 1333.2,2211.6 1349.8,2211.6 1366.3,2210.0 1382.9,2211.4 1399.4,2211.1 1416.0,2211.4 1432.5,2212.6 1449.1,2211.2 1465.6,2210.5 1482.2,2211.3 1498.7,2211.1 1515.3,2211.1 1531.8,2209.3 1548.4,2211.6 1565.0,2211.6 1581.5,2210.8 1598.1,2211.6 1614.6,2211.6 1631.2,2210.8 1647.7,2211.6 1664.3,2211.6 1680.8,2211.6 1697.4,2211.6 1713.9,2211.6 1730.5,2210.8 1747.0,2211.6 1763.6,2211.9"/>
<polygon fill="#fff" stroke="none" points="354.8,2312.7 371.4,2309.7 387.9,2304.7 404.5,2306.7 421.0,2243.7 437.6,2224.1 454.1,2207.2 470.7,2262.0 487.2,2203.5 503.8,2216.5 520.3,2212.0 536.9,2174.8 553.4,2217.0 570.0,2246.6 586.5,2244.6 603.1,2221.2 619.6,2221.2 636.2,2264.8 652.7,2294.9 669.3,2272.4 685.8,2270.7 702.4,2272.4 718.9,1653.1 735.5,2266.8 752.0,2260.7 768.6,2260.7 785.1,2287.9 801.7,2280.9 818.2,2266.2 834.8,2269.1 851.3,2275.2 867.9,2287.3 884.4,2267.1 901.0,2258.7 917.5,2277.5 934.1,2293.5 950.6,2295.2 967.2,2291.0 983.7,2291.0 1000.3,2306.5 1016.8,2307.9 1033.4,2297.7 1049.9,2306.2 1066.5,2306.2 1083.0,2074.9 1099.6,2296.3 1116.1,2299.7 1132.7,2303.2 1149.2,2303.7 1165.8,2299.2 1182.3,2300.8 1198.9,2303.9 1215.4,2302.5 1232.0,2303.1 1248.5,2298.9 1265.1,2298.6 1281.6,2306.2 1298.2,2305.6 1314.7,2307.6 1331.3,2307.0 1347.8,2306.2 1364.4,2309.8 1380.9,2309.8 1397.5,2307.6 1414.0,2308.7 1430.6,2308.7 1447.1,2225.5 1463.7,2306.6 1480.2,2306.6 1496.8,2309.0 1513.3,2311.2 1529.9,2306.1 1546.4,2309.0 1563.0,2308.7 1579.5,2309.0 1596.1,2309.0 1612.6,2306.7 1629.2,2308.4 1645.7,2309.8 1662.3,2309.0 1678.8,2309.8 1678.8,2312.7 354.8,2312.7"/>
<polyline fill="none" stroke="#00ff00" stroke-width="3.15" stroke-linejoin="round" stroke-linecap="butt" points="354.8,2312.7 371.4,2309.7 387.9,2304.7 404.5,2306.7 421.0,2243.7 437.6,2224.1 454.1,2207.2 470.7,2262.0 487.2,2203.5 503.8,2216.5 520.3,2212.0 536.9,2174.8 553.4,2217.0 570.0,2246.6 586.5,2244.6 603.1,2221.2 619.6,2221.2 636.2,2264.8 652.7,2294.9 669.3,2272.4 685.8,2270.7 702.4,2272.4 718.9,1653.1 735.5,2266.8 752.0,2260.7 768.6,2260.7 785.1,2287.9 801.7,2280.9 818.2,2266.2 834.8,2269.1 851.3,2275.2 867.9,2287.3 884.4,2267.1 901.0,2258.7 917.5,2277.5 934.1,2293.5 950.6,2295.2 967.2,2291.0 983.7,2291.0 1000.3,2306.5 1016.8,2307.9 1033.4,2297.7 1049.9,2306.2 1066.5,2306.2 1083.0,2074.9 1099.6,2296.3 1116.1,2299.7 1132.7,2303.2 1149.2,2303.7 1165.8,2299.2 1182.3,2300.8 1198.9,2303.9 1215.4,2302.5 1232.0,2303.1 1248.5,2298.9 1265.1,2298.6 1281.6,2306.2 1298.2,2305.6 1314.7,2307.6 1331.3,2307.0 1347.8,2306.2 1364.4,2309.8 1380.9,2309.8 1397.5,2307.6 1414.0,2308.7 1430.6,2308.7 1447.1,2225.5 1463.7,2306.6 1480.2,2306.6 1496.8,2309.0 1513.3,2311.2 1529.9,2306.1 1546.4,2309.0 1563.0,2308.7 1579.5,2309.0 1596.1,2309.0 1612.6,2306.7 1629.2,2308.4 1645.7,2309.8 1662.3,2309.0 1678.8,2309.8"/>
<polygon fill="#fff" stroke="none" points="270.4,2412.1 286.9,2154.6 303.5,2169.8 320.0,2176.9 336.6,2176.9 353.1,2163.6 369.7,2187.6 386.2,2255.9 402.8,2181.9 419.3,2271.9 435.9,2339.4 452.4,2373.1 468.9,2395.6 485.5,2383.1 502.0,2373.1 518.6,2368.9 535.1,2376.5 551.7,2376.5 568.2,2385.0 584.8,2385.8 601.3,2392.8 617.8,2395.1 634.4,2393.7 650.9,2393.1 667.5,2402.1 684.0,2399.3 700.6,2399.7 717.1,2399.9 733.7,2397.1 750.2,2401.8 766.8,2406.9 783.3,2406.1 799.8,2406.1 816.4,2407.7 832.9,2406.9 849.5,2402.7 866.0,2404.1 882.6,2404.1 899.1,2406.9 915.7,2406.9 932.2,2329.0 948.7,2407.7 965.3,2407.7 981.8,2409.7 998.4,2407.7 1014.9,2410.3 1031.5,2404.9 1048.0,2409.7 1064.6,2407.7 1081.1,2409.1 1097.7,2410.3 1114.2,2409.6 1130.7,2407.7 1147.3,2409.1 1163.8,2407.5 1180.4,2407.7 1196.9,2410.1 1213.5,2408.9 1230.0,2408.9 1246.6,2408.9 1263.1,2408.6 1279.6,2409.7 1296.2,2409.7 1312.7,2409.7 1329.3,2409.9 1345.8,2410.1 1362.4,2410.1 1378.9,2410.1 1395.5,2409.9 1412.0,2409.7 1428.5,2409.7 1445.1,2409.7 1461.6,2409.9 1478.2,2410.1 1494.7,2410.1 1511.3,2409.9 1527.8,2409.7 1544.4,2409.7 1560.9,2410.1 1577.5,2410.1 1594.0,2407.5 1594.0,2412.1 270.4,2412.1"/>
<polyline fill="none" stroke="#0000ff" stroke-width="3.15" stroke-linejoin="round" stroke-linecap="butt" points="270.4,2412.1 286.9,2154.6 303.5,2169.8 320.0,2176.9 336.6,2176.9 353.1,2163.6 369.7,2187.6 386.2,2255.9 402.8,2181.9 419.3,2271.9 435.9,2339.4 452.4,2373.1 468.9,2395.6 485.5,2383.1 502.0,2373.1 518.6,2368.9 535.1,2376.5 551.7,2376.5 568.2,2385.0 584.8,2385.8 601.3,2392.8 617.8,2395.1 634.4,2393.7 650.9,2393.1 667.5,2402.1 684.0,2399.3 700.6,2399.7 717.1,2399.9 733.7,2397.1 750.2,2401.8 766.8,2406.9 783.3,2406.1 799.8,2406.1 816.4,2407.7 832.9,2406.9 849.5,2402.7 866.0,2404.1 882.6,2404.1 899.1,2406.9 915.7,2406.9 932.2,2329.0 948.7,2407.7 965.3,2407.7 981.8,2409.7 998.4,2407.7 1014.9,2410.3 1031.5,2404.9 1048.0,2409.7 1064.6,2407.7 1081.1,2409.1 1097.7,2410.3 1114.2,2409.6 1130.7,2407.7 1147.3,2409.1 1163.8,2407.5 1180.4,2407.7 1196.9,2410.1 1213.5,2408.9 1230.0,2408.9 1246.6,2408.9 1263.1,2408.6 1279.6,2409.7 1296.2,2409.7 1312.7,2409.7 1329.3,2409.9 1345.8,2410.1 1362.4,2410.1 1378.9,2410.1 1395.5,2409.9 1412.0,2409.7 1428.5,2409.7 1445.1,2409.7 1461.6,2409.9 1478.2,2410.1 1494.7,2410.1 1511.3,2409.9 1527.8,2409.7 1544.4,2409.7 1560.9,2410.1 1577.5,2410.1 1594.0,2407.5"/>
<polygon fill="#fff" stroke="none" points="186.0,2511.5 202.5,2389.5 219.0,2399.7 235.6,2399.7 252.1,2387.5 268.7,2371.3 285.2,2371.5 301.7,2438.2 318.3,2344.5 334.8,2415.7 351.4,2453.1 367.9,2471.1 384.4,2489.1 401.0,2489.1 417.5,2486.9 434.1,2486.5 450.6,2483.8 467.1,2486.5 483.7,2491.1 500.2,2491.5 516.8,2492.2 533.3,2501.5 549.9,2500.1 566.4,2498.1 582.9,2506.3 599.5,2501.8 616.0,2501.7 632.6,2501.7 649.1,2500.1 665.6,2503.5 682.2,2506.2 698.7,2505.7 715.3,2504.6 731.8,2507.9 748.3,2506.8 764.9,2505.1 781.4,2506.2 798.0,2506.2 814.5,2508.8 831.0,2508.8 847.6,2422.5 864.1,2508.5 880.7,2509.6 897.2,2509.6 913.7,2506.0 930.3,2510.7 946.8,2506.2 963.4,2510.2 979.9,2507.4 996.4,2509.1 1013.0,2508.8 1029.5,2509.1 1046.1,2508.5 1062.6,2508.7 1079.1,2509.0 1095.7,2509.3 1112.2,2509.5 1128.8,2509.5 1145.3,2509.5 1161.8,2509.5 1178.4,2509.3 1194.9,2509.5 1211.5,2509.5 1228.0,2509.7 1244.6,2509.7 1261.1,2509.5 1277.6,2509.5 1294.2,2509.3 1310.7,2509.5 1327.3,2509.5 1343.8,2509.5 1360.3,2509.7 1376.9,2509.7 1393.4,2509.5 1410.0,2509.5 1426.5,2509.5 1443.0,2509.5 1459.6,2509.5 1476.1,2509.7 1492.7,2509.5 1509.2,2508.7 1509.2,2511.5 186.0,2511.5"/>
<polyline fill="none" stroke="#00ffff" stroke-width="3.15" stroke-linejoin="round" stroke-linecap="butt" points="186.0,2511.5 202.5,2389.5 219.0,2399.7 235.6,2399.7 252.1,2387.5 268.7,2371.3 285.2,2371.5 301.7,2438.2 318.3,2344.5 334.8,2415.7 351.4,2453.1 367.9,2471.1 384.4,2489.1 401.0,2489.1 417.5,2486.9 434.1,2486.5 450.6,2483.8 467.1,2486.5 483.7,2491.1 500.2,2491.5 516.8,2492.2 533.3,2501.5 549.9,2500.1 566.4,2498.1 582.9,2506.3 599.5,2501.8 616.0,2501.7 632.6,2501.7 649.1,2500.1 665.6,2503.5 682.2,2506.2 698.7,2505.7 715.3,2504.6 731.8,2507.9 748.3,2506.8 764.9,2505.1 781.4,2506.2 798.0,2506.2 814.5,2508.8 831.0,2508.8 847.6,2422.5 864.1,2508.5 880.7,2509.6 897.2,2509.6 913.7,2506.0 930.3,2510.7 946.8,2506.2 963.4,2510.2 979.9,2507.4 996.4,2509.1 1013.0,2508.8 1029.5,2509.1 1046.1,2508.5 1062.6,2508.7 1079.1,2509.0 1095.7,2509.3 1112.2,2509.5 1128.8,2509.5 1145.3,2509.5 1161.8,2509.5 1178.4,2509.3 1194.9,2509.5 1211.5,2509.5 1228.0,2509.7 1244.6,2509.7 1261.1,2509.5 1277.6,2509.5 1294.2,2509.3 1310.7,2509.5 1327.3,2509.5 1343.8,2509.5 1360.3,2509.7 1376.9,2509.7 1393.4,2509.5 1410.0,2509.5 1426.5,2509.5 1443.0,2509.5 1459.6,2509.5 1476.1,2509.7 1492.7,2509.5 1509.2,2508.7"/>
<polygon fill="#fff" stroke="none" points="101.5,2610.9 118.1,2573.2 134.6,2594.0 151.1,2603.9 167.7,2588.1 184.2,2602.5 200.7,2579.1 217.3,2572.7 233.8,2603.9 250.3,2592.9 266.9,2603.9 283.4,2606.7 300.0,2605.0 316.5,2605.0 333.0,2607.8 349.6,2607.8 366.1,2605.0 382.6,2607.8 399.2,2606.1 415.7,2609.8 432.2,2603.9 448.8,2608.9 465.3,2607.5 481.8,2610.3 498.4,2608.1 514.9,2608.9 531.5,2606.8 548.0,2610.1 564.5,2606.8 581.1,2610.4 597.6,2608.7 614.1,2609.6 630.7,2607.3 647.2,2610.4 663.7,2607.6 680.3,2610.4 696.8,2608.5 713.4,2610.4 729.9,2607.3 746.4,2610.4 763.0,2603.1 779.5,2610.4 796.0,2609.3 812.6,2610.4 829.1,2605.4 845.6,2610.4 862.2,2609.6 878.7,2610.1 895.2,2610.1 911.8,2610.1 928.3,2608.7 944.9,2610.1 961.4,2609.1 977.9,2610.6 994.5,2609.9 1011.0,2609.9 1027.5,2608.4 1044.1,2609.9 1060.6,2609.9 1077.1,2609.9 1093.7,2609.9 1110.2,2610.6 1126.8,2608.7 1143.3,2609.9 1159.8,2609.9 1176.4,2609.9 1192.9,2608.7 1209.4,2610.3 1226.0,2609.9 1242.5,2609.9 1259.0,2609.9 1275.6,2609.9 1292.1,2609.9 1308.6,2609.9 1325.2,2609.9 1341.7,2609.9 1358.3,2609.9 1374.8,2609.9 1391.3,2609.9 1407.9,2609.9 1424.4,2609.9 1424.4,2610.9 101.5,2610.9"/>
<polyline fill="none" stroke="#ff00ff" stroke-width="3.15" stroke-linejoin="round" stroke-linecap="butt" points="101.5,2610.9 118.1,2573.2 134.6,2594.0 151.1,2603.9 167.7,2588.1 184.2,2602.5 200.7,2579.1 217.3,2572.7 233.8,2603.9 250.3,2592.9 266.9,2603.9 283.4,2606.7 300.0,2605.0 316.5,2605.0 333.0,2607.8 349.6,2607.8 366.1,2605.0 382.6,2607.8 399.2,2606.1 415.7,2609.8 432.2,2603.9 448.8,2608.9 465.3,2607.5 481.8,2610.3 498.4,2608.1 514.9,2608.9 531.5,2606.8 548.0,2610.1 564.5,2606.8 581.1,2610.4 597.6,2608.7 614.1,2609.6 630.7,2607.3 647.2,2610.4 663.7,2607.6 680.3,2610.4 696.8,2608.5 713.4,2610.4 729.9,2607.3 746.4,2610.4 763.0,2603.1 779.5,2610.4 796.0,2609.3 812.6,2610.4 829.1,2605.4 845.6,2610.4 862.2,2609.6 878.7,2610.1 895.2,2610.1 911.8,2610.1 928.3,2608.7 944.9,2610.1 961.4,2609.1 977.9,2610.6 994.5,2609.9 1011.0,2609.9 1027.5,2608.4 1044.1,2609.9 1060.6,2609.9 1077.1,2609.9 1093.7,2609.9 1110.2,2610.6 1126.8,2608.7 1143.3,2609.9 1159.8,2609.9 1176.4,2609.9 1192.9,2608.7 1209.4,2610.3 1226.0,2609.9 1242.5,2609.9 1259.0,2609.9 1275.6,2609.9 1292.1,2609.9 1308.6,2609.9 1325.2,2609.9 1341.7,2609.9 1358.3,2609.9 1374.8,2609.9 1391.3,2609.9 1407.9,2609.9 1424.4,2609.9"/>
<polyline fill="none" stroke="#000" stroke-width="2.6" stroke-linejoin="miter" points="1382.00,2660.60 59.30,2660.60 59.30,2108.00 481.50,1609.70 1821.50,1609.70"/>
<polyline fill="none" stroke="#000" stroke-width="2.6" stroke-linejoin="miter" points="1806.00,1609.70 1806.00,2163.60 1382.00,2660.60"/>
<line x1="59.30" y1="2660.60" x2="59.30" y2="2675.60" stroke="#000" stroke-width="2.6"/>
<text transform="translate(59.30,2706.20) scale(1,1.0)" text-anchor="middle" class="tk">0</text>
<line x1="92.37" y1="2660.60" x2="92.37" y2="2669.10" stroke="#000" stroke-width="2.6"/>
<line x1="125.44" y1="2660.60" x2="125.44" y2="2675.60" stroke="#000" stroke-width="2.6"/>
<text transform="translate(125.44,2706.20) scale(1,1.0)" text-anchor="middle" class="tk">2</text>
<line x1="158.50" y1="2660.60" x2="158.50" y2="2669.10" stroke="#000" stroke-width="2.6"/>
<line x1="191.57" y1="2660.60" x2="191.57" y2="2675.60" stroke="#000" stroke-width="2.6"/>
<text transform="translate(191.57,2706.20) scale(1,1.0)" text-anchor="middle" class="tk">4</text>
<line x1="224.64" y1="2660.60" x2="224.64" y2="2669.10" stroke="#000" stroke-width="2.6"/>
<line x1="257.71" y1="2660.60" x2="257.71" y2="2675.60" stroke="#000" stroke-width="2.6"/>
<text transform="translate(257.71,2706.20) scale(1,1.0)" text-anchor="middle" class="tk">6</text>
<line x1="290.77" y1="2660.60" x2="290.77" y2="2669.10" stroke="#000" stroke-width="2.6"/>
<line x1="323.84" y1="2660.60" x2="323.84" y2="2675.60" stroke="#000" stroke-width="2.6"/>
<text transform="translate(323.84,2706.20) scale(1,1.0)" text-anchor="middle" class="tk">8</text>
<line x1="356.91" y1="2660.60" x2="356.91" y2="2669.10" stroke="#000" stroke-width="2.6"/>
<line x1="389.98" y1="2660.60" x2="389.98" y2="2675.60" stroke="#000" stroke-width="2.6"/>
<text transform="translate(389.98,2706.20) scale(1,1.0)" text-anchor="middle" class="tk">10</text>
<line x1="423.04" y1="2660.60" x2="423.04" y2="2669.10" stroke="#000" stroke-width="2.6"/>
<line x1="456.11" y1="2660.60" x2="456.11" y2="2675.60" stroke="#000" stroke-width="2.6"/>
<text transform="translate(456.11,2706.20) scale(1,1.0)" text-anchor="middle" class="tk">12</text>
<line x1="489.18" y1="2660.60" x2="489.18" y2="2669.10" stroke="#000" stroke-width="2.6"/>
<line x1="522.25" y1="2660.60" x2="522.25" y2="2675.60" stroke="#000" stroke-width="2.6"/>
<text transform="translate(522.25,2706.20) scale(1,1.0)" text-anchor="middle" class="tk">14</text>
<line x1="555.31" y1="2660.60" x2="555.31" y2="2669.10" stroke="#000" stroke-width="2.6"/>
<line x1="588.38" y1="2660.60" x2="588.38" y2="2675.60" stroke="#000" stroke-width="2.6"/>
<text transform="translate(588.38,2706.20) scale(1,1.0)" text-anchor="middle" class="tk">16</text>
<line x1="621.45" y1="2660.60" x2="621.45" y2="2669.10" stroke="#000" stroke-width="2.6"/>
<line x1="654.51" y1="2660.60" x2="654.51" y2="2675.60" stroke="#000" stroke-width="2.6"/>
<text transform="translate(654.51,2706.20) scale(1,1.0)" text-anchor="middle" class="tk">18</text>
<line x1="687.58" y1="2660.60" x2="687.58" y2="2669.10" stroke="#000" stroke-width="2.6"/>
<line x1="720.65" y1="2660.60" x2="720.65" y2="2675.60" stroke="#000" stroke-width="2.6"/>
<text transform="translate(720.65,2706.20) scale(1,1.0)" text-anchor="middle" class="tk">20</text>
<line x1="753.72" y1="2660.60" x2="753.72" y2="2669.10" stroke="#000" stroke-width="2.6"/>
<line x1="786.78" y1="2660.60" x2="786.78" y2="2675.60" stroke="#000" stroke-width="2.6"/>
<text transform="translate(786.78,2706.20) scale(1,1.0)" text-anchor="middle" class="tk">22</text>
<line x1="819.85" y1="2660.60" x2="819.85" y2="2669.10" stroke="#000" stroke-width="2.6"/>
<line x1="852.92" y1="2660.60" x2="852.92" y2="2675.60" stroke="#000" stroke-width="2.6"/>
<text transform="translate(852.92,2706.20) scale(1,1.0)" text-anchor="middle" class="tk">24</text>
<line x1="885.99" y1="2660.60" x2="885.99" y2="2669.10" stroke="#000" stroke-width="2.6"/>
<line x1="919.06" y1="2660.60" x2="919.06" y2="2675.60" stroke="#000" stroke-width="2.6"/>
<text transform="translate(919.06,2706.20) scale(1,1.0)" text-anchor="middle" class="tk">26</text>
<line x1="952.12" y1="2660.60" x2="952.12" y2="2669.10" stroke="#000" stroke-width="2.6"/>
<line x1="985.19" y1="2660.60" x2="985.19" y2="2675.60" stroke="#000" stroke-width="2.6"/>
<text transform="translate(985.19,2706.20) scale(1,1.0)" text-anchor="middle" class="tk">28</text>
<line x1="1018.26" y1="2660.60" x2="1018.26" y2="2669.10" stroke="#000" stroke-width="2.6"/>
<line x1="1051.33" y1="2660.60" x2="1051.33" y2="2675.60" stroke="#000" stroke-width="2.6"/>
<text transform="translate(1051.33,2706.20) scale(1,1.0)" text-anchor="middle" class="tk">30</text>
<line x1="1084.39" y1="2660.60" x2="1084.39" y2="2669.10" stroke="#000" stroke-width="2.6"/>
<line x1="1117.46" y1="2660.60" x2="1117.46" y2="2675.60" stroke="#000" stroke-width="2.6"/>
<text transform="translate(1117.46,2706.20) scale(1,1.0)" text-anchor="middle" class="tk">32</text>
<line x1="1150.53" y1="2660.60" x2="1150.53" y2="2669.10" stroke="#000" stroke-width="2.6"/>
<line x1="1183.60" y1="2660.60" x2="1183.60" y2="2675.60" stroke="#000" stroke-width="2.6"/>
<text transform="translate(1183.60,2706.20) scale(1,1.0)" text-anchor="middle" class="tk">34</text>
<line x1="1216.66" y1="2660.60" x2="1216.66" y2="2669.10" stroke="#000" stroke-width="2.6"/>
<line x1="1249.73" y1="2660.60" x2="1249.73" y2="2675.60" stroke="#000" stroke-width="2.6"/>
<text transform="translate(1249.73,2706.20) scale(1,1.0)" text-anchor="middle" class="tk">36</text>
<line x1="1282.80" y1="2660.60" x2="1282.80" y2="2669.10" stroke="#000" stroke-width="2.6"/>
<line x1="1315.87" y1="2660.60" x2="1315.87" y2="2675.60" stroke="#000" stroke-width="2.6"/>
<text transform="translate(1315.87,2706.20) scale(1,1.0)" text-anchor="middle" class="tk">38</text>
<line x1="1348.93" y1="2660.60" x2="1348.93" y2="2669.10" stroke="#000" stroke-width="2.6"/>
<line x1="1382.00" y1="2660.60" x2="1382.00" y2="2675.60" stroke="#000" stroke-width="2.6"/>
<text transform="translate(1382.00,2706.20) scale(1,1.0)" text-anchor="middle" class="tk">40</text>
<line x1="1806.00" y1="2163.60" x2="1821.50" y2="2163.60" stroke="#000" stroke-width="2.6"/>
<line x1="1806.00" y1="2141.44" x2="1815.00" y2="2141.44" stroke="#000" stroke-width="2.6"/>
<line x1="1806.00" y1="2119.29" x2="1815.00" y2="2119.29" stroke="#000" stroke-width="2.6"/>
<line x1="1806.00" y1="2097.13" x2="1815.00" y2="2097.13" stroke="#000" stroke-width="2.6"/>
<line x1="1806.00" y1="2074.98" x2="1815.00" y2="2074.98" stroke="#000" stroke-width="2.6"/>
<line x1="1806.00" y1="2052.82" x2="1821.50" y2="2052.82" stroke="#000" stroke-width="2.6"/>
<line x1="1806.00" y1="2030.66" x2="1815.00" y2="2030.66" stroke="#000" stroke-width="2.6"/>
<line x1="1806.00" y1="2008.51" x2="1815.00" y2="2008.51" stroke="#000" stroke-width="2.6"/>
<line x1="1806.00" y1="1986.35" x2="1815.00" y2="1986.35" stroke="#000" stroke-width="2.6"/>
<line x1="1806.00" y1="1964.20" x2="1815.00" y2="1964.20" stroke="#000" stroke-width="2.6"/>
<line x1="1806.00" y1="1942.04" x2="1821.50" y2="1942.04" stroke="#000" stroke-width="2.6"/>
<line x1="1806.00" y1="1919.88" x2="1815.00" y2="1919.88" stroke="#000" stroke-width="2.6"/>
<line x1="1806.00" y1="1897.73" x2="1815.00" y2="1897.73" stroke="#000" stroke-width="2.6"/>
<line x1="1806.00" y1="1875.57" x2="1815.00" y2="1875.57" stroke="#000" stroke-width="2.6"/>
<line x1="1806.00" y1="1853.42" x2="1815.00" y2="1853.42" stroke="#000" stroke-width="2.6"/>
<line x1="1806.00" y1="1831.26" x2="1821.50" y2="1831.26" stroke="#000" stroke-width="2.6"/>
<line x1="1806.00" y1="1809.10" x2="1815.00" y2="1809.10" stroke="#000" stroke-width="2.6"/>
<line x1="1806.00" y1="1786.95" x2="1815.00" y2="1786.95" stroke="#000" stroke-width="2.6"/>
<line x1="1806.00" y1="1764.79" x2="1815.00" y2="1764.79" stroke="#000" stroke-width="2.6"/>
<line x1="1806.00" y1="1742.64" x2="1815.00" y2="1742.64" stroke="#000" stroke-width="2.6"/>
<line x1="1806.00" y1="1720.48" x2="1821.50" y2="1720.48" stroke="#000" stroke-width="2.6"/>
<line x1="1806.00" y1="1698.32" x2="1815.00" y2="1698.32" stroke="#000" stroke-width="2.6"/>
<line x1="1806.00" y1="1676.17" x2="1815.00" y2="1676.17" stroke="#000" stroke-width="2.6"/>
<line x1="1806.00" y1="1654.01" x2="1815.00" y2="1654.01" stroke="#000" stroke-width="2.6"/>
<line x1="1806.00" y1="1631.86" x2="1815.00" y2="1631.86" stroke="#000" stroke-width="2.6"/>
<text transform="translate(1829,2172.70) scale(1.03,1.04)" class="tk">0</text>
<text transform="translate(1829,2061.92) scale(1.03,1.04)" class="tk">36</text>
<text transform="translate(1829,1951.14) scale(1.03,1.04)" class="tk">72</text>
<text transform="translate(1829,1840.36) scale(1.03,1.04)" class="tk">108</text>
<text transform="translate(1829,1729.58) scale(1.03,1.04)" class="tk">144</text>
<text transform="translate(1829,1618.80) scale(1.03,1.04)" class="tk">180</text>
<line x1="1424.40" y1="2610.90" x2="1440.40" y2="2610.90" stroke="#000" stroke-width="2.6"/>
<text transform="matrix(0.75,0,-0.6476,0.7620,1455.40,2624.10)" class="pl">P<tspan dy="9" dx="3.5" font-size="19">5</tspan></text>
<line x1="1509.20" y1="2511.50" x2="1525.20" y2="2511.50" stroke="#000" stroke-width="2.6"/>
<text transform="matrix(0.75,0,-0.6476,0.7620,1540.20,2524.70)" class="pl">P<tspan dy="9" dx="3.5" font-size="19">4</tspan></text>
<line x1="1594.00" y1="2412.10" x2="1610.00" y2="2412.10" stroke="#000" stroke-width="2.6"/>
<text transform="matrix(0.75,0,-0.6476,0.7620,1625.00,2425.30)" class="pl">P<tspan dy="9" dx="3.5" font-size="19">3</tspan></text>
<line x1="1678.80" y1="2312.70" x2="1694.80" y2="2312.70" stroke="#000" stroke-width="2.6"/>
<text transform="matrix(0.75,0,-0.6476,0.7620,1709.80,2325.90)" class="pl">P<tspan dy="9" dx="3.5" font-size="19">2</tspan></text>
<line x1="1763.60" y1="2213.30" x2="1779.60" y2="2213.30" stroke="#000" stroke-width="2.6"/>
<text transform="matrix(0.75,0,-0.6476,0.7620,1794.60,2226.50)" class="pl">P<tspan dy="9" dx="3.5" font-size="19">1</tspan></text>
<text transform="translate(1919.5,1911.10) rotate(-90)" text-anchor="middle" class="ti">Amplitude(kPa)</text>
<text transform="matrix(0.6825,-0.7715,0.95,0,1770.7,2412.00)" text-anchor="middle" class="ti">Monitoring points</text>
<text transform="translate(699.5,2765.90) scale(1,1.06)" class="ti">f/f<tspan dy="11.5" font-size="21">n</tspan></text>
<text transform="translate(742.70,1665.00) scale(1.06,1.02)" class="an">11</text>
<text x="796.70" y="1665.00" class="ai">f</text>
<text transform="translate(811.15,1674.50) scale(1.22,1)" class="as">n</text>
<text transform="translate(767.70,2145.50) scale(1.06,1.02)" class="an">11</text>
<text x="821.70" y="2145.50" class="ai">f</text>
<text transform="translate(836.15,2155.00) scale(1.22,1)" class="as">n</text>
<text transform="translate(1033.30,2054.50) scale(1.06,1.02)" class="an">22</text>
<text x="1088.40" y="2054.50" class="ai">f</text>
<text transform="translate(1102.85,2064.00) scale(1.22,1)" class="as">n</text>
<text transform="translate(1137.80,2157.00) scale(1.06,1.02)" class="an">22</text>
<text x="1192.90" y="2157.00" class="ai">f</text>
<text transform="translate(1207.35,2166.50) scale(1.22,1)" class="as">n</text>
<text transform="translate(837.80,2323.80) scale(1.06,1.02)" class="an">20</text>
<text x="891.90" y="2323.80" class="ai">f</text>
<text transform="translate(906.35,2333.30) scale(1.22,1)" class="as">n</text>
<text transform="translate(730.30,2446.80) scale(1.06,1.02)" class="an">20</text>
<text x="784.40" y="2446.80" class="ai">f</text>
<text transform="translate(798.85,2456.30) scale(1.22,1)" class="as">n</text>
<text transform="translate(386.40,2160.00) scale(1.06,1.02)" class="an">4</text>
<text x="415.40" y="2160.00" class="ai">f</text>
<text transform="translate(429.85,2169.50) scale(1.22,1)" class="as">n</text>
<text transform="translate(865.76,1410.6) scale(0.785,0.878)" class="cap">(</text>
<text transform="translate(893.27,1410.6) scale(0.809,0.825)" class="cap capb">a</text>
<text transform="translate(935.7,1410.6) scale(0.77,0.878)" class="cap">)</text>
<text transform="translate(851.0,2955.1) scale(0.777,0.8756)" class="cap">(</text>
<text transform="translate(877.0,2956.0) scale(0.91,0.88)" class="cap capb">b</text>
<text transform="translate(929.4,2955.1) scale(0.788,0.8756)" class="cap">)</text>
</svg>
</body></html>
